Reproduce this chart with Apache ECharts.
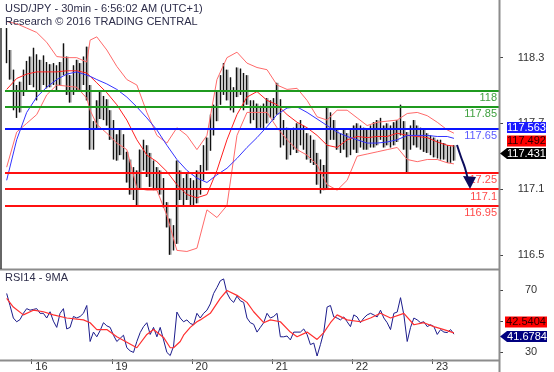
<!DOCTYPE html>
<html><head><meta charset="utf-8">
<script src="https://cdn.jsdelivr.net/npm/echarts@6/dist/echarts.min.js"></script>
<style>html,body{margin:0;padding:0;background:#fff}#c{width:554px;height:372px}</style>
</head><body><div id="c"></div>
<script>
// ---- category axis (hourly slots) ----
const nCat = 148;
const dayLabels = {8:'16', 32:'19', 56:'20', 80:'21', 104:'22', 128:'23'};
const priceTicks = [116.5, 117.1, 117.7, 118.3];
const rsiTicks = [30, 50, 70];
const rsiTickLabels = [30, 70];

// ---- price bars (open, close, low, high) ----
const open = [118.51,118.32,118.15,117.90,117.85,118.00,118.12,118.20,118.15,118.22,118.10,118.20,118.12,118.18,118.10,118.18,118.08,118.20,118.30,118.10,117.98,118.12,118.18,118.10,118.22,118.02,117.55,117.65,117.75,117.85,117.78,117.70,117.60,117.42,117.50,117.55,117.42,117.22,117.12,117.05,117.12,117.35,117.45,117.30,117.20,117.25,117.15,117.10,116.95,116.80,116.55,116.65,117.20,117.05,117.10,117.05,117.08,116.98,117.12,117.20,117.35,117.45,117.65,117.75,117.92,118.05,118.15,118.00,117.90,117.95,118.10,118.08,117.92,117.90,117.80,117.78,117.72,117.78,117.70,117.80,117.78,117.82,117.90,117.55,117.60,117.45,117.50,117.58,117.50,117.62,117.55,117.45,117.40,117.38,117.20,117.15,117.12,117.65,117.62,117.58,117.50,117.55,117.48,117.45,117.52,117.58,117.50,117.60,117.52,117.55,117.60,117.57,117.65,117.60,117.55,117.62,117.55,117.62,117.65,117.70,117.55,117.60,117.58,117.62,117.55,117.52,117.50,117.45,117.48,117.44,117.42,117.45,117.40,117.42,117.38];
const close = [118.32,118.15,117.90,117.85,118.00,118.12,118.20,118.15,118.22,118.10,118.20,118.12,118.18,118.10,118.18,118.08,118.20,118.30,118.10,117.98,118.12,118.18,118.10,118.22,118.02,117.55,117.65,117.75,117.85,117.78,117.70,117.60,117.42,117.50,117.55,117.42,117.22,117.12,117.05,117.12,117.35,117.45,117.30,117.20,117.25,117.15,117.10,116.95,116.80,116.55,116.65,117.20,117.05,117.10,117.05,117.08,116.98,117.12,117.20,117.35,117.45,117.65,117.75,117.92,118.05,118.15,118.00,117.90,117.95,118.10,118.08,117.92,117.90,117.80,117.78,117.72,117.78,117.70,117.80,117.78,117.82,117.90,117.55,117.60,117.45,117.50,117.58,117.50,117.62,117.55,117.45,117.40,117.38,117.20,117.15,117.12,117.65,117.62,117.58,117.50,117.55,117.48,117.45,117.52,117.58,117.50,117.60,117.52,117.55,117.60,117.57,117.65,117.60,117.55,117.62,117.55,117.62,117.65,117.70,117.55,117.60,117.58,117.62,117.55,117.52,117.50,117.45,117.48,117.44,117.42,117.45,117.40,117.42,117.38,117.431];
const low = [118.25,118.10,117.82,117.75,117.80,117.95,118.00,118.05,118.03,117.91,118.00,118.05,118.02,118.03,118.05,118.00,118.05,118.14,117.96,117.89,117.96,118.00,117.99,118.05,117.91,117.46,117.46,117.64,117.74,117.73,117.68,117.55,117.37,117.36,117.41,117.37,117.16,117.05,117.00,116.95,117.10,117.27,117.21,117.12,117.09,117.09,117.05,116.93,116.75,116.50,116.54,116.60,117.00,116.95,117.00,116.95,116.94,116.97,117.05,117.18,117.27,117.45,117.59,117.72,117.87,117.96,117.91,117.82,117.80,117.94,117.96,117.82,117.87,117.70,117.73,117.64,117.66,117.64,117.70,117.75,117.73,117.78,117.48,117.50,117.37,117.41,117.46,117.43,117.50,117.46,117.37,117.34,117.32,117.14,117.06,117.09,117.10,117.55,117.55,117.46,117.43,117.46,117.39,117.41,117.46,117.43,117.48,117.46,117.46,117.48,117.48,117.50,117.55,117.48,117.50,117.48,117.50,117.53,117.59,117.46,117.25,117.46,117.50,117.48,117.46,117.44,117.43,117.41,117.39,117.38,117.37,117.37,117.34,117.34,117.36];
const high = [118.57,118.37,118.19,118.05,118.08,118.19,118.27,118.31,118.39,118.33,118.28,118.32,118.26,118.24,118.25,118.23,118.26,118.43,118.31,118.14,118.23,118.28,118.25,118.31,118.40,118.05,117.72,117.91,117.99,117.95,117.92,117.82,117.73,117.60,117.65,117.60,117.44,117.37,117.30,117.27,117.46,117.55,117.50,117.43,117.36,117.30,117.27,117.20,116.98,116.83,116.77,117.36,117.27,117.20,117.25,117.20,117.18,117.27,117.32,117.50,117.57,117.78,117.87,118.00,118.14,118.25,118.19,118.12,118.03,118.21,118.20,118.16,118.14,117.91,117.91,117.88,117.86,117.88,117.93,117.91,117.93,118.07,117.92,117.73,117.66,117.64,117.66,117.70,117.73,117.68,117.61,117.59,117.55,117.43,117.37,117.32,117.85,117.80,117.73,117.64,117.61,117.64,117.61,117.64,117.68,117.70,117.68,117.66,117.64,117.68,117.71,117.73,117.75,117.68,117.70,117.68,117.71,117.73,117.87,117.72,117.62,117.68,117.73,117.68,117.66,117.64,117.61,117.59,117.57,117.55,117.55,117.52,117.50,117.49,117.50];

// ---- overlays, read at these bar slots ----
const bandIdx = [0,3,6,9,12,15,18,21,24,25,27,30,33,36,39,42,45,48,51,54,57,60,63,66,69,72,75,78,81,84,87,90,93,96,99,102,105,108,111,114,117,120,123,126,129,132,134];
const bbUpper = [118.63,118.61,118.57,118.53,118.44,118.31,118.30,118.30,118.26,118.46,118.49,118.37,118.22,118.10,118.05,117.80,117.59,117.52,117.66,117.59,117.46,117.59,118.10,118.30,118.35,118.25,118.21,118.19,118.05,118.01,118.02,117.91,117.76,117.73,117.82,117.82,117.75,117.68,117.71,117.72,117.73,117.79,117.80,117.77,117.71,117.64,117.61];
const ma20 = [118.01,118.11,118.15,118.17,118.17,118.17,118.18,118.18,118.16,118.13,118.07,117.98,117.87,117.73,117.55,117.41,117.35,117.26,117.14,117.05,117.02,117.05,117.27,117.55,117.78,117.94,117.99,117.91,117.87,117.78,117.71,117.66,117.59,117.50,117.48,117.55,117.58,117.57,117.58,117.58,117.61,117.59,117.58,117.57,117.53,117.50,117.492];
const bbLower = [117.30,117.62,117.70,117.78,117.96,118.05,118.04,118.03,117.93,117.82,117.69,117.61,117.52,117.46,117.11,117.09,117.09,116.86,116.54,116.53,116.56,116.91,116.84,116.95,117.59,117.80,117.80,117.80,117.66,117.55,117.46,117.41,117.32,117.14,117.09,117.18,117.40,117.42,117.44,117.46,117.48,117.37,117.35,117.37,117.37,117.34,117.33];
const ma50 = [117.18,117.55,117.80,117.94,118.03,118.10,118.15,118.17,118.14,118.13,118.10,118.06,118.01,117.94,117.85,117.75,117.64,117.50,117.37,117.27,117.20,117.16,117.23,117.29,117.38,117.48,117.57,117.67,117.78,117.84,117.85,117.80,117.74,117.68,117.62,117.58,117.55,117.52,117.52,117.53,117.55,117.59,117.59,117.59,117.58,117.58,117.563];

// ---- levels ----
const levelValues = [118, 117.85, 117.65, 117.25, 117.1, 116.95];
const levelLabels = ['118', '117.85', '117.65', '17.25', '117.1', '116.95'];
const levelColors = ['#1f9a1f', '#1f9a1f', '#0a14ff', '#ff1010', '#ff1010', '#ff1010'];
const levelTextColors = ['#3fa03f', '#3fa03f', '#5a5aff', '#ff4a4a', '#ff4a4a', '#ff4a4a'];

// ---- RSI ----
const rsi = [67.7,60,52,49.6,51,55,58,57,57.5,58, 55,55,52,56,50,46,55,58,45,46, 53,52,53,55,60,37,43,40,44,49, 47,46,41,37,39,41,33,31,30,37, 42.7,46.5,49,41.5,46,40,46,38,30,28, 34,55.8,52,49.6,50.8,48.5,47.7,55,52,55, 57,61,67.7,71.5,75.8,77,68,64,62,66, 63,62,52,49,48,43,46,49,55,52, 53,55,40,40,40.5,38,43,43,43,45, 41.5,35,36,27.7,35,43,59,60,52.7,52, 50.8,52.7,49.6,46.5,54,52.7,49,52,54,55, 54,52.7,57,52,49,44.6,55,55.8,65,54, 37,46,52,50.8,49,49.6,46.5,47.7,46.5,41.5, 44.6,43,42.7,44.6,41.6784];
const rsiMaIdx = [0,2,5,8,11,14,18,23,25,27,30,33,36,39,42,44,47,49,50,52,53,55,57,58,61,64,66,69,72,74,77,79,82,85,87,90,93,95,97,99,102,106,109,112,115,119,122,125,128,131,134];
const rsiMa = [64.6,59,54,57,56,54,52,50.8,49,44.6,44.6,40,36.5,33,41.5,44.6,39.6,33,33,37,41,46,49.6,50.8,55,64.6,69.6,66.5,62,56,49,50.8,49.6,43,40,43,38.3,42.7,49,54,50.8,49.6,52,55,52,55,47.7,49,46.5,44.6,42.5404];

const F = '"Liberation Sans", Arial, sans-serif';
const cats = Array.from({length: nCat}, (_, i) => String(i));
const ohlc = open.map((o, i) => [o, close[i], low[i], high[i]]);
const range = open.map((o, i) => [low[i], high[i], low[i], high[i]]);
const pairs = (idx, vals) => idx.map((k, j) => [k, vals[j]]);

const chart = echarts.init(document.getElementById('c'));

function tag(x, yc, w, fill, txt, txtColor, arrow) {
  const ch = [];
  if (arrow) ch.push({type:'polygon', z:100, shape:{points:[[x-7, yc], [x, yc-5.5], [x, yc+5.5]]}, style:{fill}});
  ch.push({type:'rect', z:100, shape:{x, y: yc-5.5, width: w, height: 11}, style:{fill}});
  ch.push({type:'text', z:101, style:{x: x + w/2, y: yc, text: txt, fill: txtColor, font: '11px ' + F, textAlign:'center', textVerticalAlign:'middle'}});
  return {type:'group', z: 100, children: ch};
}

const option = {
  animation: false,
  backgroundColor: '#fff',
  grid: [
    {left: 5, top: 0, width: 494, height: 269},
    {left: 5, top: 270, width: 494, height: 90}
  ],
  xAxis: [
    {type:'category', gridIndex:0, data: cats, show:false, boundaryGap:true},
    {type:'category', gridIndex:1, data: cats, boundaryGap:true,
     axisLine:{show:false},
     axisTick:{show:true, interval:(i) => dayLabels[i] !== undefined, length:5, lineStyle:{color:'#555', width:1}},
     axisLabel:{interval:0, formatter:(v, i) => dayLabels[i] || '', align:'left', margin:2, padding:[0,0,0,2],
                fontSize:11, color:'#333', fontFamily:F}}
  ],
  yAxis: [
    {type:'value', gridIndex:0, position:'right', min:116.37, max:118.8265,
     splitLine:{show:false}, axisLine:{show:false},
     axisTick:{show:true, customValues: priceTicks, length:4, lineStyle:{color:'#444'}},
     axisLabel:{customValues: priceTicks, formatter:(v) => v.toFixed(1), margin:32, align:'center',
                fontSize:11, color:'#333', fontFamily:F}},
    {type:'value', gridIndex:1, position:'right', min:25.8, max:82.7,
     splitLine:{show:false}, axisLine:{show:false},
     axisTick:{show:true, customValues: rsiTicks, length:4, lineStyle:{color:'#444'}},
     axisLabel:{customValues: rsiTickLabels, margin:32, align:'center', fontSize:11, color:'#333', fontFamily:F}}
  ],
  series: [
    {type:'candlestick', name:'range', xAxisIndex:0, yAxisIndex:0, data: range, barWidth:3, silent:true,
     itemStyle:{color:'#8f8f8f', color0:'#8f8f8f', borderColor:'#8f8f8f', borderColor0:'#8f8f8f', borderWidth:0}},
    {type:'candlestick', name:'bars', xAxisIndex:0, yAxisIndex:0, data: ohlc, barWidth:1, silent:true,
     itemStyle:{color:'#111', color0:'#111', borderColor:'#111', borderColor0:'#111', borderWidth:1}},
    {type:'line', name:'upper', xAxisIndex:0, yAxisIndex:0, data: pairs(bandIdx, bbUpper), symbol:'none', silent:true,
     lineStyle:{color:'#ff6a6a', width:1}},
    {type:'line', name:'lower', xAxisIndex:0, yAxisIndex:0, data: pairs(bandIdx, bbLower), symbol:'none', silent:true,
     lineStyle:{color:'#ff6a6a', width:1}},
    {type:'line', name:'ma20', xAxisIndex:0, yAxisIndex:0, data: pairs(bandIdx, ma20), symbol:'none', silent:true,
     lineStyle:{color:'#ff2020', width:1}},
    {type:'line', name:'ma50', xAxisIndex:0, yAxisIndex:0, data: pairs(bandIdx, ma50), symbol:'none', silent:true,
     lineStyle:{color:'#3434ff', width:1},
     markLine:{symbol:'none', silent:true, animation:false,
       data: levelValues.map((v, k) => ({yAxis: v,
         lineStyle:{color: levelColors[k], width:2, type:'solid'},
         label:{show:true, formatter: levelLabels[k], position:'insideEndBottom', distance:[2, 2],
                color: levelTextColors[k], fontSize:11, fontFamily:F}}))}},
    {type:'line', name:'rsi', xAxisIndex:1, yAxisIndex:1, data: rsi, symbol:'none', silent:true,
     lineStyle:{color:'#1c1c8c', width:1}},
    {type:'line', name:'rsiMa', xAxisIndex:1, yAxisIndex:1, data: pairs(rsiMaIdx, rsiMa), symbol:'none', silent:true,
     lineStyle:{color:'#ff3030', width:1.2}}
  ],
  graphic: [
    {type:'text', left:5, top:3, z:50, style:{text:'USD/JPY - 30min - 6:56:02 AM (UTC+1)', fill:'#2d2d4a', font:'11px ' + F}},
    {type:'text', left:5, top:16, z:50, style:{text:'Research \u00A9 2016 TRADING CENTRAL', fill:'#2d2d4a', font:'11px ' + F}},
    {type:'text', left:5, top:272, z:50, style:{text:'RSI14 - 9MA', fill:'#2d2d4a', font:'11px ' + F}},
    {type:'line', z:40, shape:{x1:0, y1:269.5, x2:499, y2:269.5}, style:{stroke:'#8c8c8c', lineWidth:2}},
    {type:'line', z:40, shape:{x1:0, y1:360.5, x2:499, y2:360.5}, style:{stroke:'#8c8c8c', lineWidth:2}},
    {type:'line', z:40, shape:{x1:499.5, y1:0, x2:499.5, y2:372}, style:{stroke:'#8c8c8c', lineWidth:2}},
    {type:'line', z:40, shape:{x1:1, y1:28, x2:1, y2:269}, style:{stroke:'#333', lineWidth:1.5}},
    {type:'polyline', z:60, shape:{points:[[457,145],[461,157],[465,168],[468,180]], smooth:0.4}, style:{stroke:'#0c0c5c', lineWidth:2, fill:null}},
    {type:'polygon', z:60, shape:{points:[[470,189],[463,176],[476,177]]}, style:{fill:'#0c0c5c'}},
    tag(507, 127.5, 39, '#1a1aff', '117.563', '#fff', false),
    tag(507, 141, 39, '#ff0000', '117.492', '#2a0000', false),
    tag(507, 153.5, 39, '#000000', '117.431', '#fff', true),
    tag(505, 322, 42, '#ff0000', '42.5404', '#2a0000', false),
    tag(507, 336.5, 40, '#000080', '41.6784', '#fff', true)
  ]
};
chart.setOption(option);
</script>
</body></html>
